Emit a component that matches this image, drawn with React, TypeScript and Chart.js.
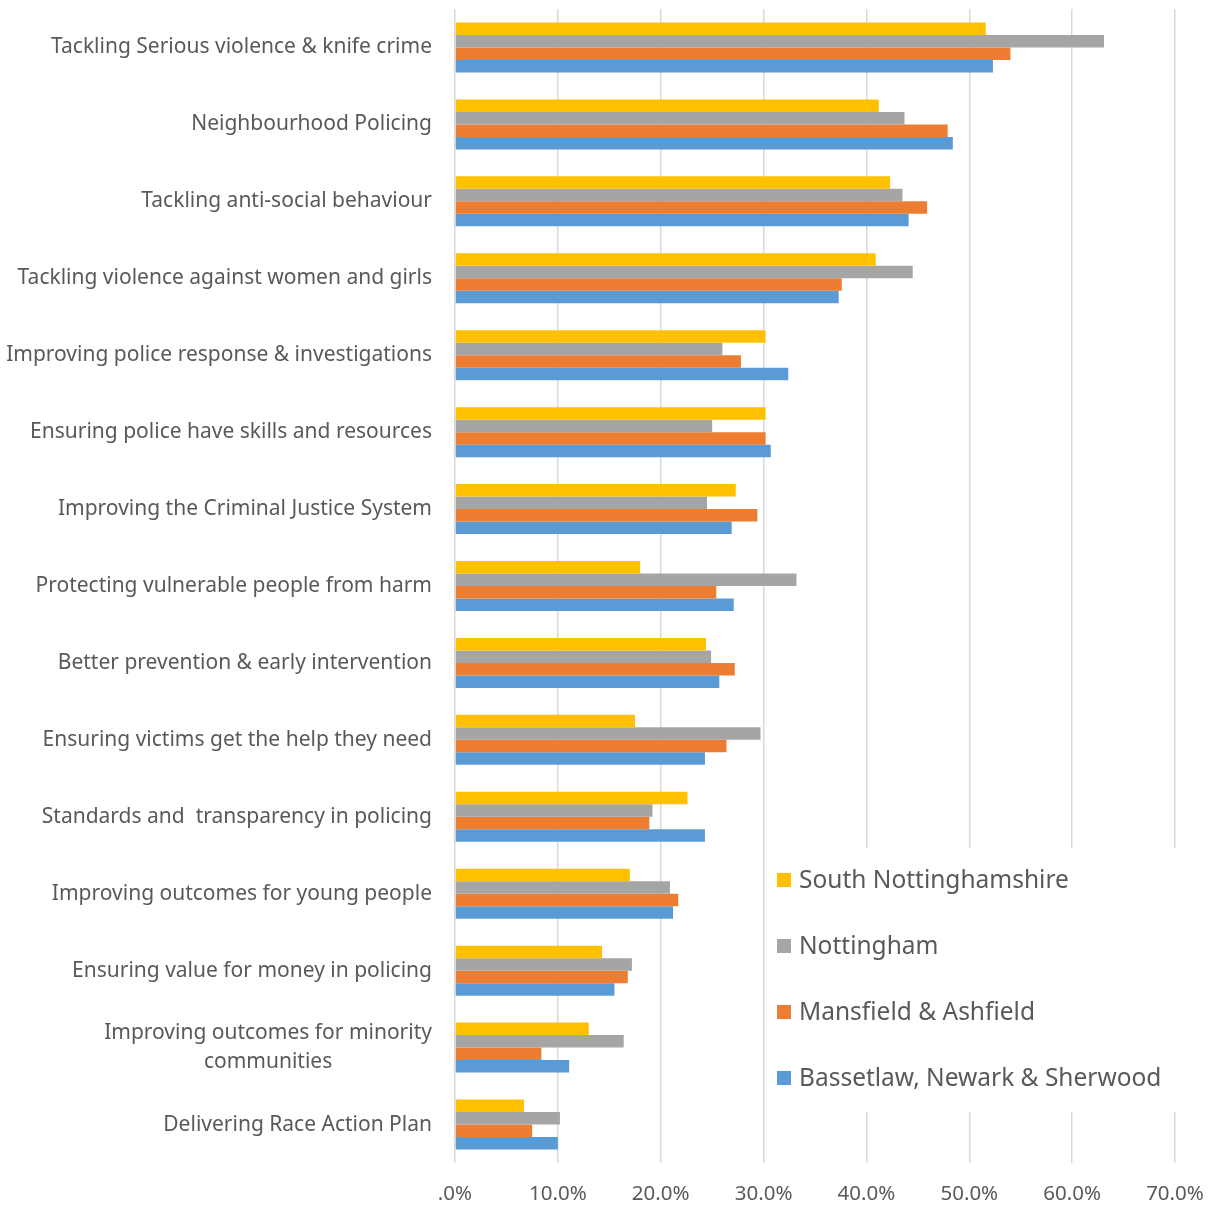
import React, { useEffect, useRef } from "react";
import { Chart, registerables } from "chart.js";

Chart.register(...registerables);

const categories: (string | string[])[] = [
  "Tackling Serious violence & knife crime",
  "Neighbourhood Policing",
  "Tackling anti-social behaviour",
  "Tackling violence against women and girls",
  "Improving police response & investigations",
  "Ensuring police have skills and resources",
  "Improving the Criminal Justice System",
  "Protecting vulnerable people from harm",
  "Better prevention & early intervention",
  "Ensuring victims get the help they need",
  "Standards and  transparency in policing",
  "Improving outcomes for young people",
  "Ensuring value for money in policing",
  ["Improving outcomes for minority", "communities"],
  "Delivering Race Action Plan",
];

const seriesNames = [
  "South Nottinghamshire",
  "Nottingham",
  "Mansfield & Ashfield",
  "Bassetlaw, Newark & Sherwood",
];
const seriesColors = ["#FFC000", "#A5A5A5", "#ED7D31", "#5B9BD5"];

const southNotts = [51.6, 41.2, 42.3, 40.9, 30.2, 30.2, 27.3, 18.0, 24.4, 17.5, 22.6, 17.0, 14.3, 13.0, 6.7];
const nottingham = [63.1, 43.7, 43.5, 44.5, 26.0, 25.0, 24.5, 33.2, 24.9, 29.7, 19.2, 20.9, 17.2, 16.4, 10.2];
const mansfield = [54.0, 47.9, 45.9, 37.6, 27.8, 30.2, 29.4, 25.4, 27.2, 26.4, 18.9, 21.7, 16.8, 8.4, 7.5];
const bassetlaw = [52.3, 48.4, 44.1, 37.3, 32.4, 30.7, 26.9, 27.1, 25.7, 24.3, 24.3, 21.2, 15.5, 11.1, 10.0];

const xMin = 0;
const xMax = 70;
const xStep = 10;

const FONT = '"Noto Sans", "Open Sans", sans-serif';
const TEXT = "#595959";

const overlayPlugin = {
  id: "overlay",
  beforeDatasetsDraw(chart: any) {
    const ctx = chart.ctx;
    ctx.save();
    const lx = 770, ly = 848, lw = 440, lh = 264;
    ctx.fillStyle = "#ffffff";
    ctx.fillRect(lx, ly, lw, lh);
    ctx.font = `24.5px ${FONT}`;
    ctx.textBaseline = "middle";
    ctx.textAlign = "left";
    seriesNames.forEach((name, i) => {
      const cy = 880 + i * 66;
      ctx.fillStyle = seriesColors[i];
      ctx.fillRect(777, cy - 7, 14, 14);
      ctx.fillStyle = TEXT;
      ctx.fillText(name, 799, cy + 1);
    });
    ctx.restore();
  },
  afterDraw(chart: any) {
    const ctx = chart.ctx;
    const yScale = chart.scales.y;
    const right = chart.chartArea.left - 23;
    ctx.save();
    ctx.font = `21px ${FONT}`;
    ctx.fillStyle = TEXT;
    ctx.textBaseline = "middle";
    ctx.textAlign = "center";
    const lineH = 29;
    categories.forEach((lab, i) => {
      const lines = Array.isArray(lab) ? lab : [lab];
      const cy = yScale.getPixelForValue(i);
      const maxW = Math.max(...lines.map((l) => ctx.measureText(l).width));
      const cx = right - maxW / 2;
      lines.forEach((l, j) => {
        ctx.fillText(l, cx, cy + (j - (lines.length - 1) / 2) * lineH);
      });
    });
    ctx.restore();
  },
};

export default function App() {
  const ref = useRef<HTMLCanvasElement>(null);
  useEffect(() => {
    if (!ref.current) return;
    const labels = categories.map((c) => (Array.isArray(c) ? c.join(" ") : c));
    const chart = new Chart(ref.current, {
      type: "bar",
      data: {
        labels,
        datasets: [southNotts, nottingham, mansfield, bassetlaw].map((d, i) => ({
          label: seriesNames[i],
          data: d,
          backgroundColor: seriesColors[i],
          borderWidth: 0,
          barPercentage: 1,
          categoryPercentage: 0.65,
        })),
      },
      options: {
        indexAxis: "y",
        responsive: false,
        animation: false,
        devicePixelRatio: 1,
        layout: { padding: { left: 0, right: 35, top: 9, bottom: 0 } },
        plugins: {
          legend: { display: false },
          tooltip: { enabled: false },
        },
        scales: {
          x: {
            min: xMin,
            max: xMax,
            grid: { color: "#d9d9d9", lineWidth: 1.5, drawTicks: false },
            border: { display: false },
            ticks: {
              stepSize: xStep,
              padding: 19,
              color: TEXT,
              font: { family: FONT, size: 20.5 },
              callback: (v: any) => (Number(v) === 0 ? ".0%" : Number(v).toFixed(1) + "%"),
            },
            afterFit: (s: any) => {
              s.height = 42;
              s.paddingLeft = 0;
              s.paddingRight = 0;
            },
          },
          y: {
            grid: { display: false, drawTicks: false },
            border: { display: false },
            ticks: { display: false },
            afterFit: (s: any) => {
              s.width = 455;
            },
          },
        },
      },
      plugins: [overlayPlugin],
    } as any);
    return () => chart.destroy();
  }, []);
  return (
    <div style={{ position: "absolute", left: 0, top: 0, width: 1210, height: 1205, background: "#fff" }}>
      <canvas ref={ref} width={1210} height={1205} />
    </div>
  );
}
